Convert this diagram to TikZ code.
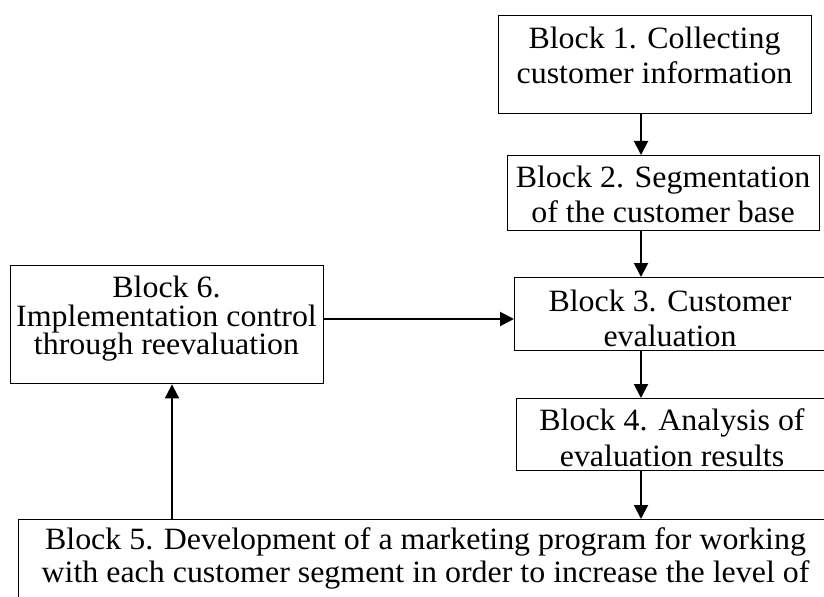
\documentclass[tikz,border=0pt]{standalone}
\usepackage{fontspec}
\setmainfont[FakeStretch=1.03]{Liberation Serif}
\usetikzlibrary{arrows.meta}
\begin{document}
\begin{tikzpicture}[x=1bp,y=-1bp,
  blockbox/.style={draw=black,line width=1.4bp,inner sep=0,anchor=north west},
  blocktext/.style={inner sep=0,anchor=north,align=center,font=\fontsize{31bp}{35.5bp}\selectfont},
  arr/.style={line width=2bp,-{Triangle[length=14bp,width=14bp]}}]
\useasboundingbox (0,0) rectangle (824,597);
\clip (0,0) rectangle (824,597);
% boxes
\node[blockbox,minimum width=313bp,minimum height=98bp] (b1) at (498,15) {};
\node[blockbox,minimum width=312bp,minimum height=75bp] (b2) at (507,155) {};
\node[blockbox,minimum width=312bp,minimum height=73bp] (b3) at (514,277) {};
\node[blockbox,minimum width=312bp,minimum height=72bp] (b4) at (516,398) {};
\node[blockbox,minimum width=815bp,minimum height=140bp] (b5) at (18,519) {};
\node[blockbox,minimum width=313bp,minimum height=118bp] (b6) at (10,265) {};
% texts
\node[blocktext] (t1) at (654.5,26.3) {Block 1. Collecting\\customer information};
\node[blocktext] (t2) at (663,165.3) {Block 2. Segmentation\\of the customer base};
\node[blocktext] (t3) at (670,289.3) {Block 3. Customer\\evaluation};
\node[blocktext] (t4) at (672,408.8) {Block 4. Analysis of\\evaluation results};
\node[blocktext,font=\fontsize{31bp}{33bp}\selectfont] (t5) at (425.5,527.8) {Block 5. Development of a marketing program for working\\with each customer segment in order to increase the level of};
\node[blocktext,font=\fontsize{31bp}{28.5bp}\selectfont] (t6) at (166.5,275.8) {Block 6.\\Implementation control\\through reevaluation};
% connectors
\coordinate (ax) at (641,0);
\coordinate (ay) at (0,319);
\coordinate (bx) at (172,0);
\draw[arr] (ax |- b1.south) -- (ax |- b2.north);
\draw[arr] (ax |- b2.south) -- (ax |- b3.north);
\draw[arr] (ax |- b3.south) -- (ax |- b4.north);
\draw[arr] (ax |- b4.south) -- (ax |- b5.north);
\draw[arr] (ay -| b6.east) -- (ay -| b3.west);
\draw[arr] (bx |- b5.north) -- (bx |- b6.south);
\end{tikzpicture}
\end{document}
